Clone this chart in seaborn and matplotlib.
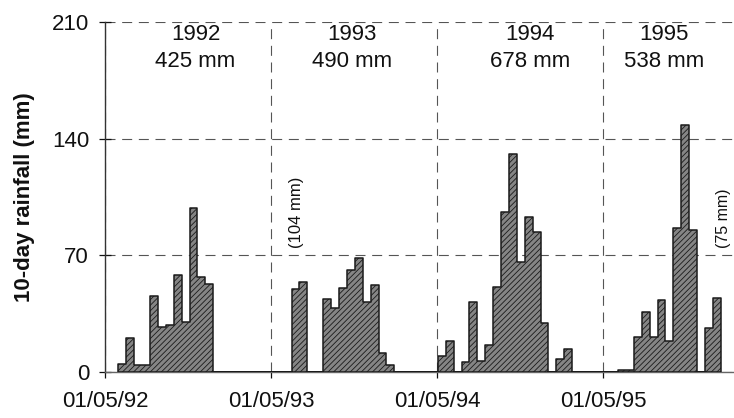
import numpy as np
import pandas as pd
import matplotlib
matplotlib.use("Agg")
import matplotlib.pyplot as plt
import seaborn as sns

# Rainy-season axis: each season spans 21 dekads starting on 1 May
season_ticks = ["01/05/92", "01/05/93", "01/05/94", "01/05/95"]
season_years = ["1992", "1993", "1994", "1995"]
season_totals = ["425 mm", "490 mm", "678 mm", "538 mm"]
DEKADS_PER_SEASON = 21

# 10-day rainfall (mm) and the dekad offset of the first value in each season
start_1992 = 1.7
rain_1992 = [4.8, 20.5, 4.0, 4.0, 45.5, 26.9, 28.5, 58.4, 30.1, 98.3, 57.2, 52.9]

start_1993 = 2.6
rain_1993 = [50.0, 54.0, 0.0, 0.0, 43.7, 38.1, 50.1, 61.5, 68.1, 42.1, 52.5, 11.2, 4.2]

start_1994 = 0.1
rain_1994 = [9.8, 18.5, 0.0, 5.8, 42.1, 6.8, 16.0, 50.9, 95.7, 130.8, 66.2,
             93.3, 84.0, 29.5, 0.0, 8.0, 13.8]

start_1995 = 1.9
rain_1995 = [1.4, 1.4, 20.7, 36.2, 20.7, 43.3, 18.7, 86.5, 148.3, 85.1, 0.0, 26.2, 44.3]

# Rain falling outside the plotted dekads
extra_notes = ["(104 mm)", "(75 mm)"]

starts = [start_1992, start_1993, start_1994, start_1995]
series = [rain_1992, rain_1993, rain_1994, rain_1995]

# Build one long table of dekad bins
edges, centers, weights = [], [], []
for k, (s, vals) in enumerate(zip(starts, series)):
    base = k * DEKADS_PER_SEASON + s
    season_edges = [base + i for i in range(len(vals) + 1)]
    edges.extend(season_edges)
    centers.extend([base + i + 0.5 for i in range(len(vals))])
    weights.extend(vals)
df = pd.DataFrame({"dekad": centers, "rain": weights})

plt.rcParams["font.family"] = ["Liberation Sans", "DejaVu Sans"]
plt.rcParams["hatch.linewidth"] = 0.6

fig = plt.figure(figsize=(7.34, 4.18), dpi=100)
ax = fig.add_axes([105 / 734, 1 - 372 / 418, 628 / 734, 350 / 418])

sns.histplot(data=df, x="dekad", weights="rain", bins=edges, element="step",
             fill=True, color="#858585", alpha=1.0, edgecolor="#1a1a1a",
             linewidth=1.1, hatch="//////", ax=ax, zorder=3)

ax.set_xlim(0, 628 / 7.905)
ax.set_ylim(0, 210)

# Axes, ticks and labels
ax.set_yticks([0, 70, 140, 210])
ax.set_xticks([k * DEKADS_PER_SEASON for k in range(len(season_ticks))])
ax.set_xticklabels(season_ticks)
ax.tick_params(axis="y", direction="inout", length=9, width=0.9, pad=7,
               labelsize=16, colors="#111111")
ax.tick_params(axis="x", direction="out", length=4, width=0.9, pad=10,
               labelsize=16, colors="#111111")
ax.set_xlabel("")
ax.set_ylabel("10-day rainfall (mm)", fontsize=16, fontweight="bold",
              labelpad=12, color="#111111")

for side in ("top", "right"):
    ax.spines[side].set_visible(False)
ax.spines["left"].set_color("#333333")
ax.spines["left"].set_linewidth(1.0)
ax.spines["bottom"].set_color("#666666")
ax.spines["bottom"].set_linewidth(1.0)

# Dashed reference grid behind the bars
ax.set_axisbelow(True)
ax.grid(True, which="major", linestyle=(0, (9, 6)), color="#555555", linewidth=0.8)

# Season headings
label_x = [11.45, 31.3, 53.8, 70.7]
for x, yr, tot in zip(label_x, season_years, season_totals):
    ax.text(x, 194.5, f"{yr}\n{tot}", ha="center", va="center", fontsize=16,
            linespacing=1.35, color="#111111", zorder=5)

# Rainfall outside the plotted window
ax.text(24.2, 96, extra_notes[0], rotation=90, ha="center", va="center",
        fontsize=12, color="#111111", zorder=5)
ax.text(78.3, 92, extra_notes[1], rotation=90, ha="center", va="center",
        fontsize=11.5, color="#111111", zorder=5, clip_on=False)

fig.savefig("out.png", dpi=100)
